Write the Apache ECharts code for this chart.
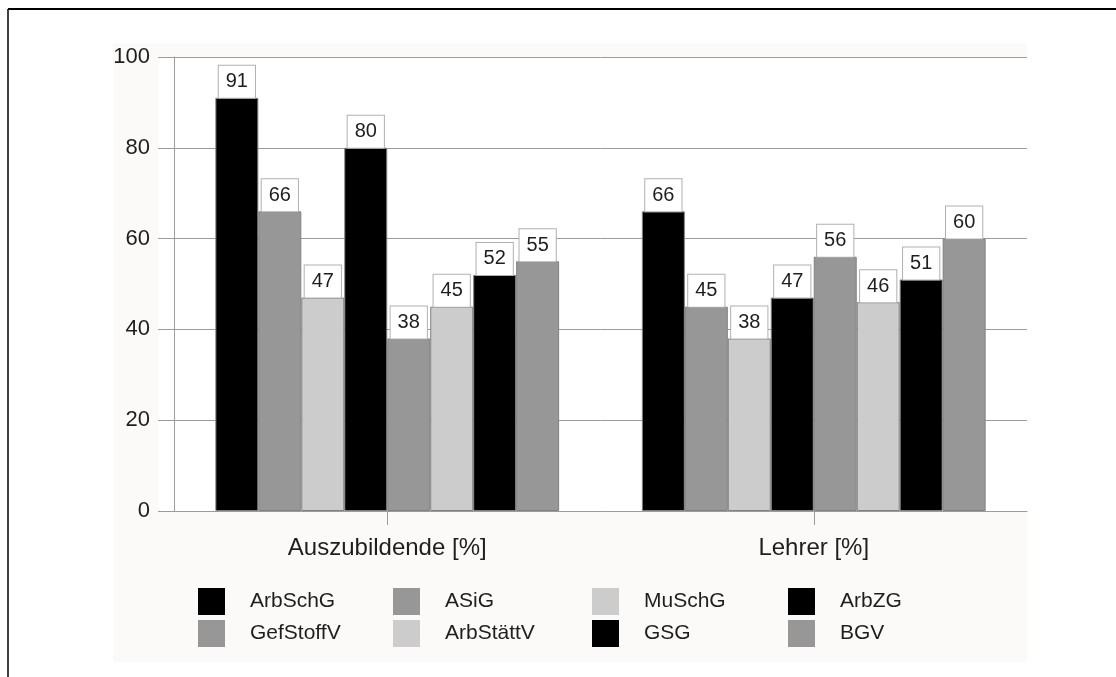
<!DOCTYPE html>
<html>
<head>
<meta charset="utf-8">
<script src="https://cdn.jsdelivr.net/npm/echarts@6/dist/echarts.min.js"></script>
<style>
  html, body { margin: 0; padding: 0; background: #ffffff; }
  #chart { width: 1116px; height: 677px; }
</style>
</head>
<body>
<div id="chart"></div>
<script>
// Groups on the category axis
const categories = ['Auszubildende [%]', 'Lehrer [%]'];
// Laws and regulations, in bar order within each group
const seriesNames = ['ArbSchG', 'ASiG', 'MuSchG', 'ArbZG', 'GefStoffV', 'ArbStättV', 'GSG', 'BGV'];
// Share of respondents familiar with each regulation
const azubiValues = [91, 66, 47, 80, 38, 45, 52, 55];
const lehrerValues = [66, 45, 38, 47, 56, 46, 51, 60];
// Value axis
const yMin = 0;
const yMax = 100;
const yStep = 20;

const barColors = ['#000000', '#979797', '#cccccc', '#000000', '#979797', '#cccccc', '#000000', '#979797'];
const FONT = '"Liberation Sans", Arial, sans-serif';
const GRID_COLOR = '#9c9c9c';
const TEXT_COLOR = '#1e1e1e';

const series = seriesNames.map((name, i) => ({
  name: name,
  type: 'bar',
  data: [azubiValues[i], lehrerValues[i]],
  barGap: '0%',
  barCategoryGap: '19.4%',
  itemStyle: { color: barColors[i], borderColor: '#808080', borderWidth: 1 },
  label: {
    show: true,
    position: 'top',
    distance: 0,
    fontFamily: FONT,
    fontSize: 20,
    lineHeight: 20,
    color: TEXT_COLOR,
    backgroundColor: '#ffffff',
    borderColor: '#b0b0b0',
    borderWidth: 1,
    padding: [6, 7, 6, 7]
  }
}));

// Legend laid out in four columns of two entries each
const legendLefts = [198, 393, 592, 788];
const legends = legendLefts.map((left, c) => ({
  orient: 'vertical',
  left: left,
  top: 588,
  padding: 0,
  itemWidth: 27,
  itemHeight: 27,
  itemGap: 5,
  icon: 'rect',
  selectedMode: false,
  data: [seriesNames[c], seriesNames[c + 4]],
  itemStyle: { borderWidth: 0 },
  textStyle: { fontFamily: FONT, fontSize: 21, color: TEXT_COLOR, padding: [0, 0, 0, 20] }
}));

const chart = echarts.init(document.getElementById('chart'), null, { renderer: 'canvas' });
chart.setOption({
  animation: false,
  backgroundColor: '#ffffff',
  graphic: [
    { type: 'rect', z: -2, shape: { x: 113, y: 43, width: 914, height: 619 }, style: { fill: '#fbfaf8' } },
    { type: 'rect', z: -1, shape: { x: 158, y: 57, width: 869, height: 454 }, style: { fill: '#ffffff' } },
    { type: 'line', shape: { x1: 8, y1: 9, x2: 1116, y2: 9 }, style: { stroke: '#000000', lineWidth: 2 } },
    { type: 'line', shape: { x1: 8, y1: 9, x2: 8, y2: 677 }, style: { stroke: '#000000', lineWidth: 1.5 } }
  ],
  grid: { left: 174, right: 89, top: 57, bottom: 166, containLabel: false },
  legend: legends,
  xAxis: {
    type: 'category',
    data: categories,
    axisLine: { show: true, lineStyle: { color: GRID_COLOR, width: 1 } },
    axisTick: { show: true, alignWithLabel: true, length: 14, lineStyle: { color: GRID_COLOR } },
    axisLabel: { fontFamily: FONT, fontSize: 24, color: TEXT_COLOR, margin: 25 }
  },
  yAxis: {
    type: 'value',
    min: yMin,
    max: yMax,
    interval: yStep,
    axisLine: { show: true, lineStyle: { color: GRID_COLOR, width: 1 } },
    axisTick: { show: true, length: 16, lineStyle: { color: GRID_COLOR } },
    splitLine: { show: true, lineStyle: { color: GRID_COLOR, width: 1 } },
    axisLabel: { fontFamily: FONT, fontSize: 22, color: TEXT_COLOR, margin: 24 }
  },
  series: series
});
</script>
</body>
</html>
